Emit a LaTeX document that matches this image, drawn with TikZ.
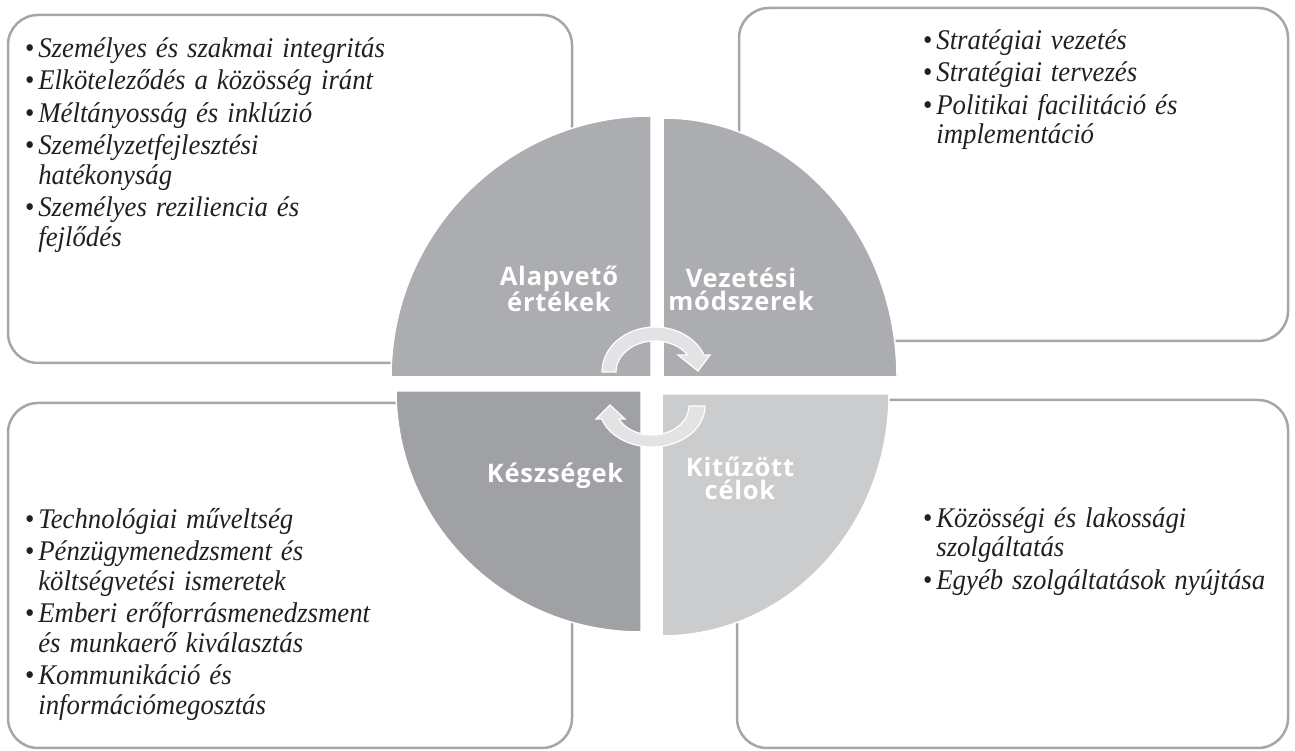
\documentclass[tikz,border=0pt]{standalone}
\usepackage{fontspec}
\setmainfont{Liberation Serif}
\newfontfamily\labfont{Open Sans}[LetterSpace=3]
\definecolor{boxgray}{RGB}{165,166,169}
\definecolor{qA}{RGB}{172,173,176}
\definecolor{qB}{RGB}{160,161,164}
\definecolor{qC}{RGB}{203,204,206}
\definecolor{arrowfill}{RGB}{226,227,228}
\definecolor{txt}{RGB}{35,31,32}
\newcommand\bul{\makebox[14pt][l]{\upshape\textbullet}}
\newcommand\ind{\hspace*{14pt}}
\newcommand\firstline{\rule{0pt}{22pt}}
\tikzset{
  panel/.style={draw=boxgray, line width=2.5pt, rounded corners=30pt},
  quad/.style={draw=white, line width=1.5pt},
  cyc/.style={fill=arrowfill, draw=white, line width=1.2pt, line join=miter},
  lab/.style={font=\labfont\bfseries\fontsize{25.5}{23}\selectfont, text=white, align=center, inner sep=0pt},
  listbox/.style={font=\fontsize{28.5}{29.5}\selectfont\itshape, text=txt, inner sep=0pt, text width=460pt, align=left, anchor=north west},
  narrow/.style={xscale=0.94, transform shape}
}
\begin{document}
\begin{tikzpicture}[x=1pt,y=1pt]
\useasboundingbox (0,0) rectangle (1295,751);
% panels
\draw[panel] (8,388) rectangle (572,736);
\draw[panel] (739,410) rectangle (1288,743);
\draw[panel] (8,3) rectangle (572,348);
\draw[panel] (737,3) rectangle (1288,351);
% quadrants
\path[quad, fill=qA] (651,374) -- (391,374) arc[start angle=180, end angle=90, x radius=260, y radius=261] -- cycle;
\path[quad, fill=qA] (663,374) -- (663,633) arc[start angle=90, end angle=0, x radius=234, y radius=259] -- cycle;
\path[quad, fill=qB] (641,360) -- (396,360) arc[start angle=180, end angle=270, x radius=245, y radius=241] -- cycle;
\path[quad, fill=qC] (662,357) -- (662,115) arc[start angle=270, end angle=360, x radius=227, y radius=242] -- cycle;
% cycle arrows
\path[cyc] (616,379) -- (602,379) arc[start angle=180, end angle=22, x radius=53, y radius=45] -- (710,396) -- (698,380) -- (678,396) -- (687.7,395.9) arc[start angle=33, end angle=180, x radius=39, y radius=31] -- cycle;
\path[cyc] (689,345) -- (705,345) arc[start angle=0, end angle=-161.5, x radius=53, y radius=41] -- (596,332) -- (610,346) -- (625,332) -- (618.9,332) arc[start angle=-153.4, end angle=0, x radius=37, y radius=29] -- cycle;
% quadrant labels
\node[lab] (q1) at (559,462) {Alapvető\\értékek};
\node[lab] (q2) at (741,462) {Vezetési\\módszerek};
\node[lab, anchor=base] (q3) at (555,268) {Készségek};
\node[lab] (q4) at (740,273) {Kitűzött\\célok};
% lists
\begin{scope}[shift={(25,716)}, narrow]
\node[listbox] (l1) at (0,0) {\firstline\bul Személyes és szakmai integritás\\[3pt]
\bul Elköteleződés a közösség iránt\\[3pt]
\bul Méltányosság és inklúzió\\[3pt]
\bul Személyzetfejlesztési\\
\ind hatékonyság\\[3pt]
\bul Személyes reziliencia és\\
\ind fejlődés};
\end{scope}
\begin{scope}[shift={(923,724)}, narrow]
\node[listbox] (l2) at (0,0) {\firstline\bul Stratégiai vezetés\\[3pt]
\bul Stratégiai tervezés\\[3pt]
\bul Politikai facilitáció és\\
\ind implementáció};
\end{scope}
\begin{scope}[shift={(25,245)}, narrow]
\node[listbox] (l3) at (0,0) {\firstline\bul Technológiai műveltség\\[3pt]
\bul Pénzügymenedzsment és\\
\ind költségvetési ismeretek\\[3pt]
\bul Emberi erőforrásmenedzsment\\
\ind és munkaerő kiválasztás\\[3pt]
\bul Kommunikáció és\\
\ind információmegosztás};
\end{scope}
\begin{scope}[shift={(923,246)}, narrow]
\node[listbox] (l4) at (0,0) {\firstline\bul Közösségi és lakossági\\
\ind szolgáltatás\\[3pt]
\bul Egyéb szolgáltatások nyújtása};
\end{scope}
\end{tikzpicture}
\end{document}
